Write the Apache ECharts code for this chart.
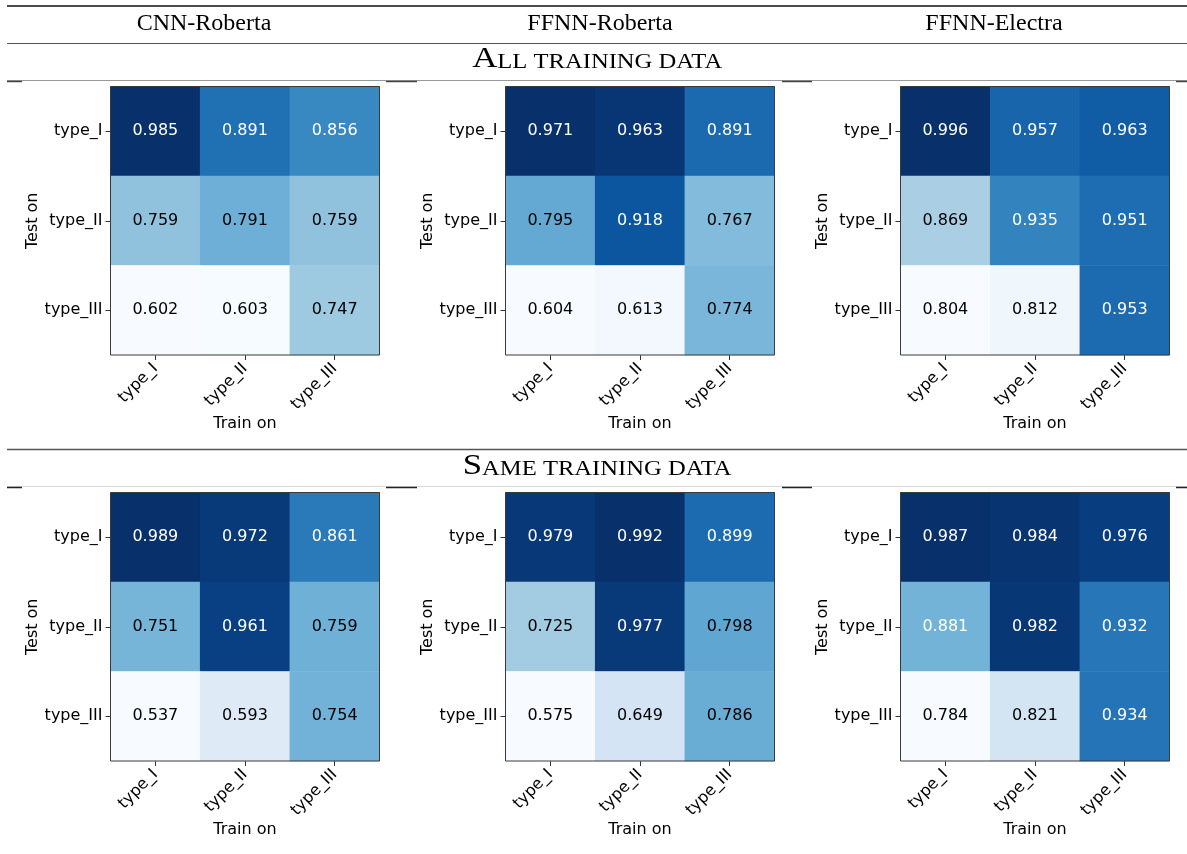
<!DOCTYPE html>
<html>
<head>
<meta charset="utf-8">
<script src="https://cdn.jsdelivr.net/npm/echarts@6/dist/echarts.min.js"></script>
<style>
html,body{margin:0;padding:0;background:#fff;}
#chart{width:1187px;height:854px;}
</style>
</head>
<body>
<div id="chart"></div>
<script>
// ---- data ----
const categories = ['type_I', 'type_II', 'type_III'];
const modelNames = ['CNN-Roberta', 'FFNN-Roberta', 'FFNN-Electra'];
const xAxisName = 'Train on';
const yAxisName = 'Test on';
// rows = test on (type_I..type_III), columns = train on (type_I..type_III)
const allCnnRoberta   = [[0.985, 0.891, 0.856], [0.759, 0.791, 0.759], [0.602, 0.603, 0.747]];
const allFfnnRoberta  = [[0.971, 0.963, 0.891], [0.795, 0.918, 0.767], [0.604, 0.613, 0.774]];
const allFfnnElectra  = [[0.996, 0.957, 0.963], [0.869, 0.935, 0.951], [0.804, 0.812, 0.953]];
const sameCnnRoberta  = [[0.989, 0.972, 0.861], [0.751, 0.961, 0.759], [0.537, 0.593, 0.754]];
const sameFfnnRoberta = [[0.979, 0.992, 0.899], [0.725, 0.977, 0.798], [0.575, 0.649, 0.786]];
const sameFfnnElectra = [[0.987, 0.984, 0.976], [0.881, 0.982, 0.932], [0.784, 0.821, 0.934]];
// value above which the annotation is drawn in white, per panel
const whiteTextAbove = [0.80, 0.85, 0.90, 0.80, 0.85, 0.85];

// ---- layout ----
const panels = [allCnnRoberta, allFfnnRoberta, allFfnnElectra, sameCnnRoberta, sameFfnnRoberta, sameFfnnElectra];
const colLefts = [110.5, 505.5, 900.5];
const rowTops = [86.5, 492.5];
const cellW = 269, cellH = 268.5;
const blues = ['#f7fbff','#deebf7','#c6dbef','#9ecae1','#6baed6','#4292c6','#2171b5','#08519c','#08306b'];
const sansFont = 'DejaVu Sans';

const grid = [], xAxis = [], yAxis = [], series = [], visualMap = [];
panels.forEach((vals, i) => {
  const r = Math.floor(i / 3), c = i % 3;
  grid.push({left: colLefts[c], top: rowTops[r], width: cellW, height: cellH,
    show: true, z: 5, backgroundColor: 'transparent', borderColor: '#3a3a3a', borderWidth: 1});
  xAxis.push({type: 'category', gridIndex: i, data: categories,
    name: xAxisName, nameLocation: 'middle', nameGap: 61,
    nameTextStyle: {fontFamily: sansFont, fontSize: 16, color: '#000'},
    axisLine: {show: false}, splitLine: {show: false},
    axisTick: {show: true, alignWithLabel: true, length: 5, lineStyle: {color: '#333', width: 1}},
    axisLabel: {rotate: 45, interval: 0, margin: 11, fontFamily: sansFont, fontSize: 16, color: '#000'}});
  yAxis.push({type: 'category', gridIndex: i, data: categories, inverse: true,
    name: yAxisName, nameLocation: 'middle', nameGap: 68, nameRotate: 90,
    nameTextStyle: {fontFamily: sansFont, fontSize: 16, color: '#000'},
    axisLine: {show: false}, splitLine: {show: false},
    axisTick: {show: true, alignWithLabel: true, length: 5, lineStyle: {color: '#333', width: 1}},
    axisLabel: {interval: 0, margin: 8, fontFamily: sansFont, fontSize: 16, color: '#000'}});
  const flat = vals.flat();
  const vmin = Math.min(...flat), vmax = Math.max(...flat);
  const data = [];
  vals.forEach((row, yi) => row.forEach((v, xi) => {
    data.push({value: [xi, yi, v], label: {color: v > whiteTextAbove[i] ? '#fff' : '#000'}});
  }));
  series.push({type: 'heatmap', xAxisIndex: i, yAxisIndex: i, data: data,
    label: {show: true, fontFamily: sansFont, fontSize: 16,
      formatter: p => p.value[2].toFixed(3)},
    itemStyle: {borderWidth: 0},
    emphasis: {disabled: true}});
  visualMap.push({type: 'continuous', show: false, seriesIndex: i, dimension: 2,
    min: vmin, max: vmax, inRange: {color: blues}});
});

// ---- header lines and titles ----
const segXs = [[7, 22], [386, 417], [782, 812], [1176, 1187]];
const graphic = [
  {type: 'line', shape: {x1: 7, y1: 6, x2: 1187, y2: 6}, style: {stroke: '#111', lineWidth: 1.5}},
  {type: 'line', shape: {x1: 7, y1: 43.5, x2: 1187, y2: 43.5}, style: {stroke: '#555', lineWidth: 1.2}},
  {type: 'line', shape: {x1: 7, y1: 80.5, x2: 1187, y2: 80.5}, style: {stroke: '#999', lineWidth: 1}},
  {type: 'line', shape: {x1: 7, y1: 449.5, x2: 1187, y2: 449.5}, style: {stroke: '#555', lineWidth: 1.3}},
  {type: 'line', shape: {x1: 7, y1: 486.5, x2: 1187, y2: 486.5}, style: {stroke: '#d8d8d8', lineWidth: 1}}
];
segXs.forEach(s => {
  graphic.push({type: 'line', shape: {x1: s[0], y1: 81.5, x2: s[1], y2: 81.5}, style: {stroke: '#444', lineWidth: 1.5}});
  graphic.push({type: 'line', shape: {x1: s[0], y1: 487.5, x2: s[1], y2: 487.5}, style: {stroke: '#222', lineWidth: 1.5}});
});
const titleCenters = [204, 600, 994];
modelNames.forEach((n, k) => {
  graphic.push({type: 'text', x: titleCenters[k], y: 24,
    style: {text: n, font: '24px "Liberation Serif"', fill: '#000', textAlign: 'center', textVerticalAlign: 'middle'}});
});
function smallCaps(first, rest, junction, baseline) {
  return {type: 'group', x: junction, y: 0, scaleX: 1.2, children: [
    {type: 'text', x: 0, y: baseline - 0.331 * 29,
      style: {text: first, font: '29px "Liberation Serif"', fill: '#000', textAlign: 'right', textVerticalAlign: 'middle'}},
    {type: 'text', x: 0, y: baseline - 0.331 * 20.5,
      style: {text: rest, font: '20.5px "Liberation Serif"', fill: '#000', textAlign: 'left', textVerticalAlign: 'middle'}}
  ]};
}
graphic.push(smallCaps('A', 'LL TRAINING DATA', 497.3, 69.3));
graphic.push(smallCaps('S', 'AME TRAINING DATA', 482.1, 476));

const chart = echarts.init(document.getElementById('chart'), null, {renderer: 'canvas'});
chart.setOption({
  animation: false,
  backgroundColor: '#fff',
  grid, xAxis, yAxis, visualMap, series, graphic
});
</script>
</body>
</html>
